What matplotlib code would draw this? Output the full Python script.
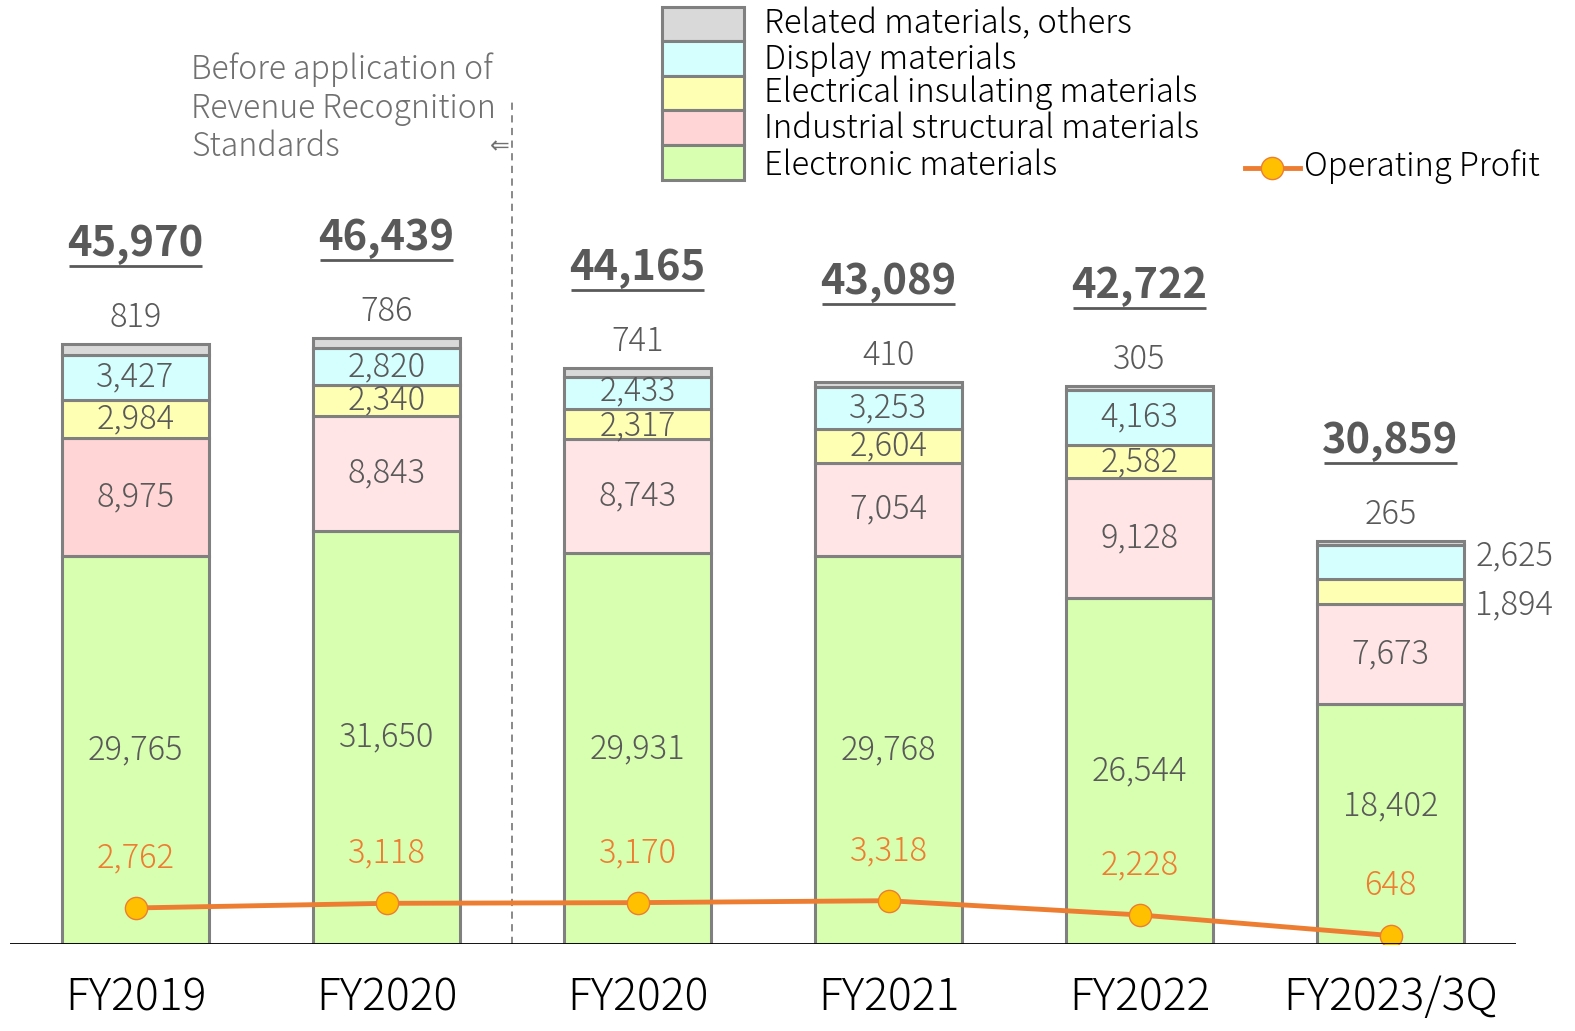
import numpy as np
import matplotlib.pyplot as plt
from matplotlib.patches import Rectangle
from matplotlib.lines import Line2D

plt.rcParams['font.family'] = ['Noto Sans CJK JP', 'DejaVu Sans']
plt.rcParams['font.weight'] = 'light'

# ---------------------------------------------------------------
# data (million yen)
# ---------------------------------------------------------------
years = ["FY2019", "FY2020", "FY2020", "FY2021", "FY2022", "FY2023/3Q"]
segments = ["Electronic materials", "Industrial structural materials",
            "Electrical insulating materials", "Display materials",
            "Related materials, others"]
electronic = [29765, 31650, 29931, 29768, 26544, 18402]
industrial = [8975, 8843, 8743, 7054, 9128, 7673]
insulating = [2984, 2340, 2317, 2604, 2582, 1894]
display = [3427, 2820, 2433, 3253, 4163, 2625]
others = [819, 786, 741, 410, 305, 265]
op_profit = [2762, 3118, 3170, 3318, 2228, 648]
note_lines = ["Before application of", "Revenue Recognition", "Standards"]

series = [electronic, industrial, insulating, display, others]
totals = np.sum(series, axis=0)

# colours
green = "#D8FFB0"
pink_old = "#FFD5D5"
pink = "#FFE5E5"
yellow = "#FFFFB3"
cyan = "#D5FFFF"
grey = "#D9D9D9"
edge = "#808080"
txt = "#595959"
orange = "#ED7D31"
gold = "#FFC000"

PX = 0.01305  # pixels per million yen

fig = plt.figure(figsize=(15.75, 10.31), dpi=100)
ax = fig.add_axes([10 / 1575, 87 / 1031, 1506 / 1575, 944 / 1031])
ax.set_xlim(-0.5, 5.5)
ax.set_ylim(0, 944 / PX)
ax.axis("off")

x = np.arange(len(years))
w = 0.586
seg_colors = [[green] * 6,
              [pink_old] + [pink] * 5,
              [yellow] * 6, [cyan] * 6, [grey] * 6]

bottom = np.zeros(len(years))
for vals, cols in zip(series, seg_colors):
    ax.bar(x, vals, w, bottom=bottom, color=cols, edgecolor=edge,
           linewidth=2.2, zorder=2)
    bottom += np.array(vals)

# segment labels
lab_fs = 23.5
for i in range(len(years)):
    b = 0
    for k, vals in enumerate(series):
        v = vals[i]
        mid = b + v / 2
        s = f"{v:,}"
        if k == 4:
            ax.annotate(s, (x[i], b + v), xytext=(0, 19), textcoords="offset points",
                        ha="center", va="center", fontsize=lab_fs, color=txt)
        elif i == 5 and k in (2, 3):
            dy = {3: 4, 2: -10}[k]
            ax.annotate(s, (x[i] + w / 2, mid), xytext=(8, dy), textcoords="offset points",
                        ha="left", va="center", fontsize=lab_fs, color=txt)
        elif i == 5 and k == 0:
            ax.annotate(s, (x[i], mid), xytext=(0, 13), textcoords="offset points",
                        ha="center", va="center", fontsize=lab_fs, color=txt)
        elif i == 2 and k in (2, 3):
            # thin segments: push the two labels a little apart
            dy = {3: 1.5, 2: -1.5}[k]
            ax.annotate(s, (x[i], mid), xytext=(0, dy), textcoords="offset points",
                        ha="center", va="center", fontsize=lab_fs - 0.5, color=txt)
        else:
            ax.text(x[i], mid, s, ha="center", va="center", fontsize=lab_fs, color=txt)
        b += v
    # total, bold and underlined
    ax.annotate(f"{totals[i]:,}", (x[i], totals[i]), xytext=(0, 72),
                textcoords="offset points", ha="center", va="center",
                fontsize=30, fontweight="bold", color=txt)
    ax.plot([x[i] - 0.263, x[i] + 0.263], [totals[i] + 78 / PX] * 2,
            color=txt, lw=2, solid_capstyle="butt", zorder=3)

# operating profit
ax.plot(x, op_profit, color=orange, lw=3.5, marker="o", markersize=16,
        markerfacecolor=gold, markeredgecolor=orange, markeredgewidth=1, zorder=4)
for i, v in enumerate(op_profit):
    ax.annotate(f"{v:,}", (x[i], v), xytext=(0, 36), textcoords="offset points",
                ha="center", va="center", fontsize=lab_fs, color=orange)

# baseline
ax.axhline(0, color="black", lw=1.3, zorder=5)

# category labels
for i, name in enumerate(years):
    fig.text((10 + (x[i] + 0.5) * 251) / 1575, 1 - 998 / 1031, name,
             ha="center", va="center", fontsize=32, color="black")

# revenue recognition divider
ax.plot([1.5, 1.5], [0, (944 - 100) / PX], color=edge, lw=1.3,
        ls=(0, (4, 3)), zorder=1)
for j, line in enumerate(note_lines):
    fig.text(191 / 1575, 1 - (70 + 38.5 * j) / 1031, line,
             ha="left", va="center", fontsize=23, color="#707070")
fig.text(500 / 1575, 1 - 146 / 1031, "⇐", ha="center", va="center",
         fontsize=17, color="#707070", family=["DejaVu Sans"], weight="normal")

# legend (drawn by hand: stacked boxes)
leg_cols = [grey, cyan, yellow, pink_old, green]
leg_names = segments[::-1]
row_top = [7, 41, 76, 110, 145, 180]
text_y = [24, 60, 93, 129, 166]
for j, (c, name) in enumerate(zip(leg_cols, leg_names)):
    y0 = 1 - row_top[j + 1] / 1031
    h = (row_top[j + 1] - row_top[j]) / 1031
    fig.add_artist(Rectangle((662 / 1575, y0), 82 / 1575, h, transform=fig.transFigure,
                             facecolor=c, edgecolor=edge, linewidth=2.2))
    fig.text(764 / 1575, 1 - text_y[j] / 1031, name,
             ha="left", va="center", fontsize=23.5, color="black")

fig.add_artist(Line2D([1245 / 1575, 1300 / 1575], [1 - 168 / 1031] * 2,
                      transform=fig.transFigure, color=orange, lw=3.5))
fig.add_artist(Line2D([1272 / 1575], [1 - 168 / 1031], transform=fig.transFigure,
                      marker="o", markersize=16, markerfacecolor=gold,
                      markeredgecolor=orange, markeredgewidth=1))
fig.text(1304 / 1575, 1 - 167 / 1031, "Operating Profit", ha="left", va="center",
         fontsize=23.5, color="black")

fig.savefig("out.png", dpi=100)
